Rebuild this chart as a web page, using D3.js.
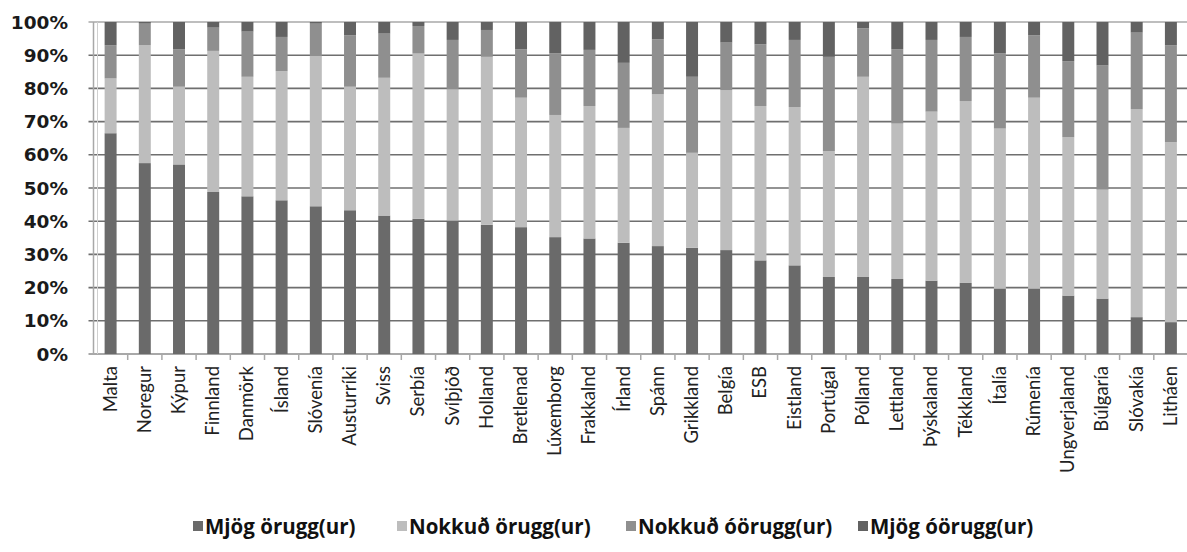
<!DOCTYPE html>
<html>
<head>
<meta charset="utf-8">
<script src="https://cdn.jsdelivr.net/npm/d3@7"></script>
<style>
  body { margin: 0; background: #fff; }
  .tick-y { font-family: "DejaVu Sans", sans-serif; font-size: 18.5px; font-weight: 700; fill: #1a1a1a; }
  .cat { font-family: Lato, "Open Sans", sans-serif; font-size: 18.5px; fill: #222; }
  .legend text { font-family: "Open Sans", Lato, sans-serif; font-size: 20.5px; font-weight: 700; fill: #111; }
</style>
</head>
<body>
<svg id="chart"></svg>
<script>
// categories, left to right
const countries = ["Malta", "Noregur", "Kýpur", "Finnland", "Danmörk", "Ísland", "Slóvenía", "Austurríki",
  "Sviss", "Serbía", "Svíþjóð", "Holland", "Bretlenad", "Lúxemborg", "Frakkalnd", "Írland", "Spánn",
  "Grikkland", "Belgía", "ESB", "Eistland", "Portúgal", "Pólland", "Lettland", "Þýskaland", "Tékkland",
  "Ítalía", "Rúmenía", "Ungverjaland", "Búlgaría", "Slóvakía", "Litháen"];

// series values (percent)
const mjogOrugg = [66.5, 57.5, 57.1, 48.8, 47.5, 46.3, 44.5, 43.3, 41.7, 40.7, 40.2, 38.9, 38.2, 35.2, 34.8, 33.5,
  32.5, 32.0, 31.3, 28.2, 26.7, 23.2, 23.2, 22.6, 22.1, 21.4, 19.7, 19.7, 17.6, 16.7, 11.1, 9.6];
const nokkudOrugg = [16.5, 35.5, 23.4, 42.5, 36.0, 38.9, 45.2, 37.2, 41.5, 49.8, 39.5, 50.6, 39.0, 36.8, 39.9, 34.6,
  45.7, 28.6, 48.2, 46.5, 47.7, 37.9, 60.3, 46.8, 50.9, 54.8, 48.2, 57.5, 47.7, 32.8, 62.6, 54.2];
const nokkudOorugg = [10.0, 6.5, 11.3, 7.0, 13.6, 10.3, 9.8, 15.5, 13.3, 8.3, 14.9, 8.1, 14.6, 18.6, 16.9, 19.6,
  16.6, 22.9, 14.3, 18.6, 20.2, 28.4, 14.6, 22.4, 21.6, 19.3, 22.7, 18.8, 22.9, 37.4, 23.1, 29.2];
const mjogOorugg = [7.0, 0.5, 8.2, 1.7, 2.9, 4.5, 0.5, 4.0, 3.5, 1.2, 5.4, 2.4, 8.2, 9.4, 8.4, 12.3,
  5.2, 16.5, 6.2, 6.7, 5.4, 10.5, 1.9, 8.2, 5.4, 4.5, 9.4, 4.0, 11.8, 13.1, 3.2, 7.0];

const seriesNames = ["Mjög örugg(ur)", "Nokkuð örugg(ur)", "Nokkuð óörugg(ur)", "Mjög óörugg(ur)"];
const seriesColors = ["#6a6a6a", "#bdbdbd", "#8f8f8f", "#626262"];
const yTicks = [0, 10, 20, 30, 40, 50, 60, 70, 80, 90, 100];

const data = countries.map((c, i) => ({
  country: c,
  s0: mjogOrugg[i], s1: nokkudOrugg[i], s2: nokkudOorugg[i], s3: mjogOorugg[i]
}));
const keys = ["s0", "s1", "s2", "s3"];

const W = 1187, H = 552;
const margin = {top: 22, right: -1, bottom: 198, left: 93.5};
const width = W - margin.left - margin.right;
const height = H - margin.top - margin.bottom;

const svg = d3.select("#chart").attr("width", W).attr("height", H);
const chart = svg.append("g").attr("transform", `translate(${margin.left},${margin.top})`);

const x = d3.scaleBand().domain(countries).range([0, width]).paddingInner(0.65).paddingOuter(0.325);
const y = d3.scaleLinear().domain([0, 100]).range([height, 0]);

// gridlines
chart.append("g").selectAll("line")
  .data(yTicks)
  .join("line")
  .attr("x1", -5).attr("x2", width)
  .attr("y1", d => y(d)).attr("y2", d => y(d))
  .attr("stroke", d => (d === 0 || d === 100) ? "#a8a8a8" : "#6f6f6f")
  .attr("stroke-width", d => d === 0 ? 2 : 1.6);

// y axis line
chart.append("line")
  .attr("x1", 0).attr("x2", 0).attr("y1", 0).attr("y2", height)
  .attr("stroke", "#a8a8a8").attr("stroke-width", 1.5);
chart.append("line")
  .attr("x1", 4).attr("x2", 4).attr("y1", 0).attr("y2", height)
  .attr("stroke", "#d0d0d0").attr("stroke-width", 1);

// x tick marks at band boundaries
const step = x.step();
chart.append("g").selectAll("line")
  .data(countries)
  .join("line")
  .attr("x1", d => x(d) - x.paddingOuter() * step + step)
  .attr("x2", d => x(d) - x.paddingOuter() * step + step)
  .attr("y1", height).attr("y2", height + 6)
  .attr("stroke", "#a8a8a8").attr("stroke-width", 1.5);

// stacked bars
const stacked = d3.stack().keys(keys)(data);
chart.append("g").selectAll("g")
  .data(stacked)
  .join("g")
  .attr("fill", (d, i) => seriesColors[i])
  .selectAll("rect")
  .data(d => d)
  .join("rect")
  .attr("x", d => x(d.data.country))
  .attr("width", x.bandwidth())
  .attr("y", d => y(d[1]))
  .attr("height", d => y(d[0]) - y(d[1]));

// y tick labels
svg.append("g").selectAll("text")
  .data(yTicks)
  .join("text")
  .attr("class", "tick-y")
  .attr("x", 68)
  .attr("y", d => margin.top + y(d))
  .attr("dy", "0.36em")
  .attr("text-anchor", "end")
  .text(d => d + "%");

// category labels
chart.append("g").selectAll("text")
  .data(countries)
  .join("text")
  .attr("class", "cat")
  .attr("transform", d => `translate(${x(d) + x.bandwidth() / 2 + 6},${height + 12}) rotate(-90)`)
  .attr("text-anchor", "end")
  .text(d => d);

// legend
const legendX = [193, 397, 626, 858];
const legend = svg.append("g").attr("class", "legend");
const items = legend.selectAll("g")
  .data(seriesNames)
  .join("g")
  .attr("transform", (d, i) => `translate(${legendX[i]},527)`);
items.append("rect")
  .attr("x", 0).attr("y", -6).attr("width", 10).attr("height", 10)
  .attr("fill", (d, i) => seriesColors[i]);
items.append("text")
  .attr("x", 12).attr("y", 0).attr("dy", "0.35em")
  .text(d => d);
</script>
</body>
</html>
